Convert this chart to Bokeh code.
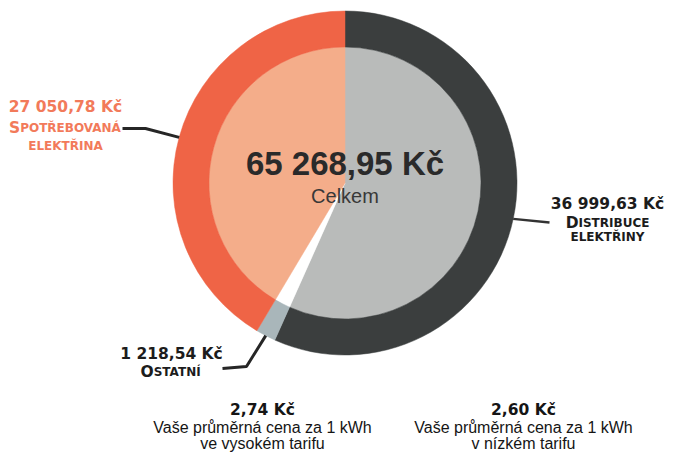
import numpy as np
from bokeh.plotting import figure
from bokeh.models import Range1d
from bokeh.embed import file_html
from bokeh.resources import INLINE
from bokeh.core.properties import value

# ---------------- data ----------------
categories = ["Distribuce elektřiny", "Ostatní", "Spotřebovaná elektřina"]
amounts = [36999.63, 1218.54, 27050.78]
amount_labels = ["36 999,63 Kč", "1 218,54 Kč", "27 050,78 Kč"]
cat_line1 = ["DISTRIBUCE", "OSTATNÍ", "SPOTŘEBOVANÁ"]
cat_line2 = ["ELEKTŘINY", "", "ELEKTŘINA"]
total_label = "65 268,95 Kč"
total_caption = "Celkem"
price_values = ["2,74 Kč", "2,60 Kč"]
price_texts = ["Vaše průměrná cena za 1 kWh", "Vaše průměrná cena za 1 kWh"]
tariff_texts = ["ve vysokém tarifu", "v nízkém tarifu"]

outer_colors = ["#3b3e3e", "#a9b6ba", "#ef6446"]
inner_colors = ["#b9bbba", "#ffffff", "#f4ad8a"]
label_colors = ["#1c1c1c", "#1c1c1c", "#f27a5a"]

# ---------------- layout helpers ----------------
W, H = 668, 452
def X(px):  # picture x -> data x
    return px
def Y(py):  # picture y (from top) -> data y
    return H - py

CX, CY = X(344.5), Y(182.5)
R_OUT, R_IN = 172, 136

p = figure(width=W, height=H, x_range=Range1d(0, W), y_range=Range1d(0, H),
           output_backend="svg", toolbar_location=None, min_border=0)
p.axis.visible = False
p.grid.visible = False
p.outline_line_color = None
p.background_fill_color = "white"
p.border_fill_color = "white"

# angles: clockwise from 12 o'clock
vals = np.array(amounts)
frac = vals / vals.sum()
cum = np.concatenate([[0], np.cumsum(frac)]) * 2 * np.pi
theta_start = cum[:-1]
theta_end = cum[1:]
theta_mid = (theta_start + theta_end) / 2
start = np.pi / 2 - theta_start
end = np.pi / 2 - theta_end

p.wedge(x=CX, y=CY, radius=R_IN, start_angle=start, end_angle=end,
        direction="clock", fill_color=inner_colors, line_color=inner_colors, line_width=0.5)
p.annular_wedge(x=CX, y=CY, inner_radius=R_IN, outer_radius=R_OUT,
                start_angle=start, end_angle=end, direction="clock",
                fill_color=outer_colors, line_color=outer_colors, line_width=0.5)

# leader lines (anchored at slice mid-angle on the outer edge)
ex = CX + R_OUT * np.sin(theta_mid)
ey = CY + R_OUT * np.cos(theta_mid)
leader_color = "#262626"
# distribuce
p.line(x=[ex[0], X(549)], y=[ey[0], Y(222)], line_color="#333333", line_width=2.5)
# ostatni
p.line(x=[ex[1], X(246), X(222)], y=[ey[1], Y(366), Y(368)], line_color=leader_color, line_width=3)
# spotrebovana
p.line(x=[ex[2], X(145), X(122)], y=[ey[2], Y(128), Y(128)], line_color=leader_color, line_width=3)

# ---------------- texts ----------------
BOLD = value("DejaVu Sans")
DJB = {"A": .774, "B": .762, "C": .734, "D": .830, "E": .683, "I": .372, "K": .775,
       "L": .637, "N": .837, "O": .850, "P": .733, "R": .770, "S": .719, "T": .682,
       "U": .812, "V": .774, "Y": .724, "Ř": .770, "Á": .774, "Í": .372}

def bold_text(x, y, t, size, color, align="center"):
    p.text(x=[x], y=[y], text=[t], text_font=BOLD, text_font_style="bold",
           text_font_size=f"{size}px", text_color=color, text_align=align,
           text_baseline="alphabetic")

def smallcaps(cx, base, word, big, small, color, first_big=True):
    if first_big:
        first, rest = word[0], word[1:]
        w1 = DJB.get(first, .7) * big
    else:
        first, rest = "", word
        w1 = 0
    w2 = sum(DJB.get(c, .7) for c in rest) * small
    x0 = cx - (w1 + w2) / 2
    if first:
        bold_text(x0, base, first, big, color, "left")
    bold_text(x0 + w1, base, rest, small, color, "left")

NUM = 15.5
SC = 12
# spotrebovana
bold_text(X(65), Y(106), amount_labels[2], NUM, label_colors[2])
smallcaps(X(65), Y(127), cat_line1[2], NUM, SC, label_colors[2])
smallcaps(X(65), Y(145), cat_line2[2], NUM, SC, label_colors[2], first_big=False)
# distribuce
DX = 607
bold_text(X(DX), Y(203), amount_labels[0], NUM, label_colors[0])
smallcaps(X(DX), Y(222), cat_line1[0], NUM, SC, label_colors[0])
smallcaps(X(DX), Y(236), cat_line2[0], NUM, SC, label_colors[0], first_big=False)
# ostatni
bold_text(X(171), Y(353), amount_labels[1], NUM, label_colors[1])
smallcaps(X(171), Y(371), cat_line1[1], NUM, SC, label_colors[1])

# center
p.text(x=[CX], y=[Y(163)], text=[total_label], text_font=value("Liberation Sans"),
       text_font_style="bold", text_font_size="33px", text_color="#2a2a2a",
       text_align="center", text_baseline="alphabetic")
p.text(x=[CX], y=[Y(195)], text=[total_caption], text_font=value("Liberation Sans"),
       text_font_size="20px", text_color="#383838",
       text_align="center", text_baseline="alphabetic")

# bottom price notes
price_cx = [X(262), X(523)]
for i in range(2):
    bold_text(price_cx[i], Y(409), price_values[i], NUM, "#151515")
    p.text(x=[price_cx[i]], y=[Y(427)], text=[price_texts[i]], text_font=value("Liberation Sans"),
           text_font_size="16px", text_color="#151515", text_align="center",
           text_baseline="alphabetic")
    p.text(x=[price_cx[i]], y=[Y(443)], text=[tariff_texts[i]], text_font=value("Liberation Sans"),
           text_font_size="16px", text_color="#151515", text_align="center",
           text_baseline="alphabetic")

open("out.html", "w").write(file_html(p, INLINE))
